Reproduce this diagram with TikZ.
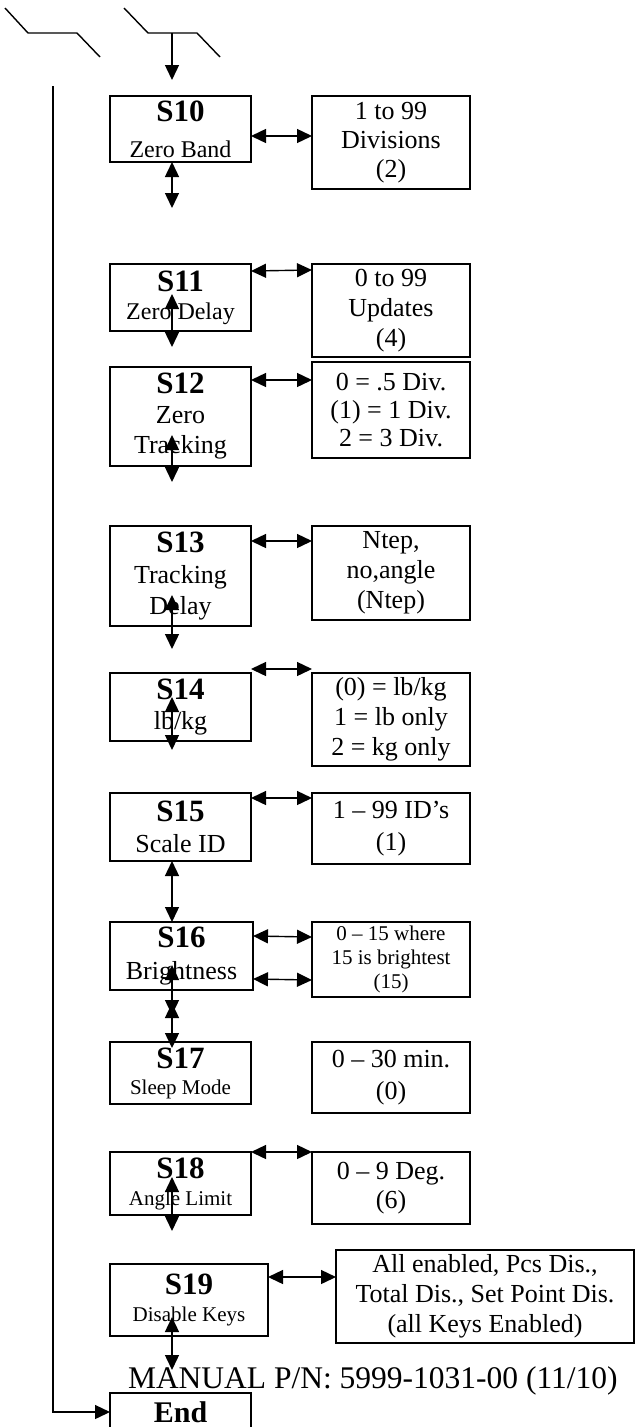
\documentclass[tikz,border=0pt]{standalone}
\usepackage{fontspec}
\setmainfont{Liberation Serif}
\usetikzlibrary{positioning}
\usetikzlibrary{arrows.meta}

\newcommand\boxtitle[1]{{\fontsize{31}{35}\selectfont\bfseries #1}}

\begin{document}
\begin{tikzpicture}[x=1pt,y=-1pt,every node/.style={inner sep=0,outer sep=0, font=\fontsize{26}{30}\selectfont}, align=center, node distance=61pt,
	sbox/.style={draw, line width=2pt, minimum width=141pt, minimum height=#1},
	vbox/.style={draw, line width=2pt, minimum width=158pt, minimum height=#1},
	twoway/.style={{Triangle[length=15pt,width=14pt]}-{Triangle[length=15pt,width=14pt]}, line width=1.4pt},
	oneway/.style={-{Triangle[length=15pt,width=14pt]}, line width=1.4pt}]
		\useasboundingbox (0,0) rectangle (636,1427);
		
		%Nodes
		\node[sbox=66pt, font=\fontsize{24}{36}\selectfont] (s10) at (180.5,129) {\boxtitle{S10}\\Zero Band};
		\node[vbox=93pt, right=of s10.north east, anchor=north west, font=\fontsize{26}{29}\selectfont] (v10) {1 to 99\\Divisions\\(2)};
		\node[sbox=67pt, font=\fontsize{24}{28}\selectfont] (s11) at (180.5,297.5) {\boxtitle{S11}\\Zero Delay};
		\node[vbox=93pt, right=of s11.north east, anchor=north west] (v11) {0 to 99\\Updates\\(4)};
		\node[sbox=99pt] (s12) at (180.5,416.5) {\boxtitle{S12}\\Zero\\Tracking};
		\node[vbox=96pt, right=of s12.north east, anchor=north west, yshift=5pt, font=\fontsize{26}{28}\selectfont] (v12) {0 = .5 Div.\\(1) = 1 Div.\\2 = 3 Div.};
		\node[sbox=100pt, font=\fontsize{26}{31}\selectfont] (s13) at (180.5,576) {\boxtitle{S13}\\Tracking\\Delay};
		\node[vbox=94pt, right=of s13.north east, anchor=north west] (v13) {Ntep,\\no,angle\\(Ntep)};
		\node[sbox=68pt] (s14) at (180.5,707) {\boxtitle{S14}\\lb/kg};
		\node[vbox=93pt, right=of s14.north east, anchor=north west] (v14) {(0) = lb/kg\\1 = lb only\\2 = kg only};
		\node[sbox=68pt, font=\fontsize{26}{31}\selectfont] (s15) at (180.5,827) {\boxtitle{S15}\\Scale ID};
		\node[vbox=71pt, right=of s15.north east, anchor=north west, font=\fontsize{26}{32}\selectfont] (v15) {1 – 99 ID’s\\(1)};
		\node[sbox=68pt, minimum width=143pt, font=\fontsize{26}{32}\selectfont] (s16) at (181.5,956) {\boxtitle{S16}\\Brightness};
		\node[vbox=75pt, right=of s16.north east, anchor=north west, xshift=-2pt, font=\fontsize{21}{24}\selectfont] (v16) {0 – 15 where\\15 is brightest\\(15)};
		\node[sbox=62pt, font=\fontsize{21}{26}\selectfont] (s17) at (180.5,1073) {\boxtitle{S17}\\Sleep Mode};
		\node[vbox=71pt, right=of s17.north east, anchor=north west, font=\fontsize{26}{32}\selectfont] (v17) {0 – 30 min.\\(0)};
		\node[sbox=63pt, font=\fontsize{21}{27}\selectfont] (s18) at (180.5,1183.5) {\boxtitle{S18}\\Angle Limit};
		\node[vbox=72pt, right=of s18.north east, anchor=north west, font=\fontsize{26}{29}\selectfont] (v18) {0 – 9 Deg.\\(6)};
		\node[sbox=72pt, minimum width=158pt, font=\fontsize{21}{27}\selectfont] (s19) at (189,1300) {\boxtitle{S19}\\Disable Keys};
		\node[vbox=93pt, minimum width=298pt, right=68pt of s19.north east, anchor=north west, yshift=14pt] (v19) {All enabled, Pcs Dis.,\\Total Dis., Set Point Dis.\\(all Keys Enabled)};
		\node[anchor=base west, font=\fontsize{31.5}{36}\selectfont] (pn) at (128,1388) {MANUAL P/N: 5999-1031-00 (11/10)};
		\node[sbox=38pt, font=\fontsize{30}{32}\selectfont\bfseries] (end) at (180.5,1412) {End};
		\coordinate (in) at (172,33);
		\coordinate (back) at (53,86);
		
		%Lines
		\draw[line width=1.4pt] (5,8) -- (28,33) -- (77,33) -- (100,57);
		\draw[line width=1.4pt] (124,8) -- (148,33) -- (197,33) -- (220,57);
		\draw[oneway] (in) -- ([yshift=16pt]s10.north -| in);
		\draw[oneway] (back) |- (end.west);
		
		\draw[twoway] ([yshift=-40pt]s10.north east) -- ([yshift=-40pt]v10.north west);
		\draw[twoway] ([yshift=-7pt]s11.north east) -- ([yshift=-6pt]v11.north west);
		\draw[twoway] ([yshift=-13pt]s12.north east) -- ([yshift=-18pt]v12.north west);
		\draw[twoway] ([yshift=-15pt]s13.north east) -- ([yshift=-15pt]v13.north west);
		\draw[twoway] ([yshift=4pt]s14.north east) -- ([yshift=4pt]v14.north west);
		\draw[twoway] ([yshift=-5pt]s15.north east) -- ([yshift=-5pt]v15.north west);
		\draw[twoway] ([yshift=-14pt]s16.north east) -- ([yshift=-15pt]v16.north west);
		\draw[twoway] ([yshift=-57pt]s16.north east) -- ([yshift=-58pt]v16.north west);
		\draw[twoway] (s18.north east) -- (v18.north west);
		\draw[twoway] ([yshift=-13pt]s19.north east) -- ([yshift=-27pt]v19.north west);
		
		\draw[twoway] (s10.south -| in) -- ([yshift=-46pt]s10.south -| in);
		\draw[twoway] ([yshift=-30pt]s11.north -| in) -- ([yshift=-16pt]s11.south -| in);
		\draw[twoway] ([yshift=31pt]s12.south -| in) -- ([yshift=-16pt]s12.south -| in);
		\draw[twoway] ([yshift=31pt]s13.south -| in) -- ([yshift=-23pt]s13.south -| in);
		\draw[twoway] ([yshift=44pt]s14.south -| in) -- ([yshift=-9pt]s14.south -| in);
		\draw[twoway] (s15.south -| in) -- (s16.north -| in);
		\draw[twoway] ([yshift=25pt]s16.south -| in) -- ([yshift=-25pt]s16.south -| in);
		\draw[twoway] ([yshift=-13pt]s16.south -| in) -- ([yshift=-6pt]s17.north -| in);
		\draw[twoway] ([yshift=-25pt]s18.north -| in) -- ([yshift=-16pt]s18.south -| in);
		\draw[twoway] ([yshift=19pt]s19.south -| in) -- ([yshift=-34pt]s19.south -| in);
	\end{tikzpicture}
\end{document}
